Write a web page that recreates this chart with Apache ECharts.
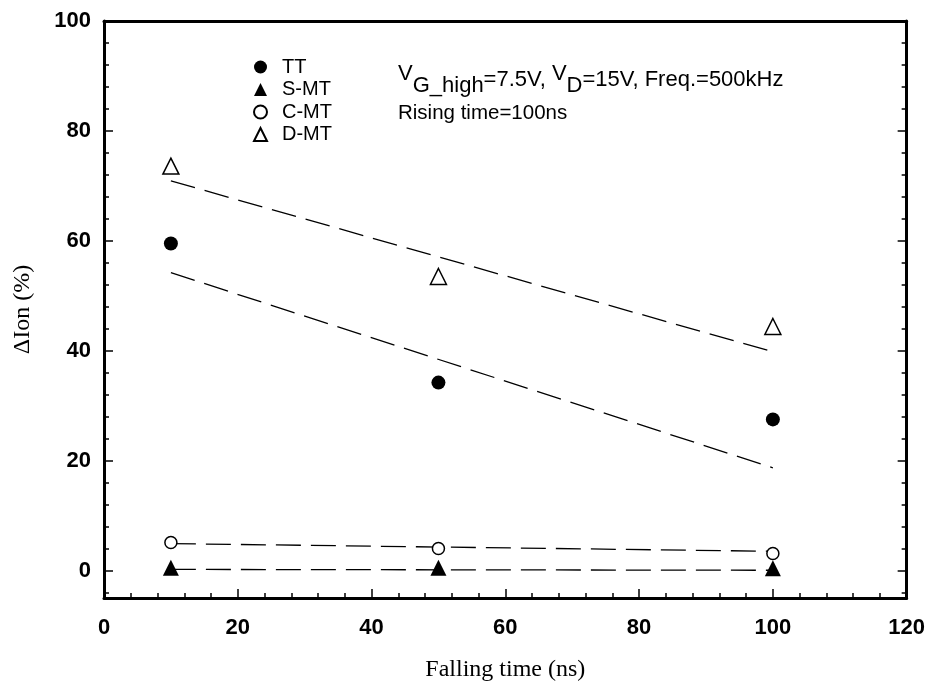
<!DOCTYPE html>
<html>
<head>
<meta charset="UTF-8">
<title>Delta Ion vs falling time</title>
<script src="https://cdn.jsdelivr.net/npm/echarts@6/dist/echarts.min.js"></script>
<style>
  html, body { margin: 0; padding: 0; background: #fff; }
  #main { width: 928px; height: 691px; }
</style>
</head>
<body>
<div id="main"></div>
<script>
// falling time (ns)
var xs = [10, 50, 100];
// measured points (%)
var ttVals = [59.5, 34.2, 27.5];
var smtVals = [0.5, 0.5, 0.4];
var cmtVals = [5.1, 4.0, 3.1];
var dmtVals = [73.6, 53.5, 44.4];
// fitted dashed lines, ends at x = 10 and x = 100
var fitX = [10, 100];
var ttFit = [54.2, 18.7];
var smtFit = [0.2, 0.05];
var cmtFit = [4.9, 3.5];
var dmtFit = [70.9, 39.8];
// ticks
var yMajor = [0, 20, 40, 60, 80, 100];
var yMinor = [-4, 4, 8, 12, 16, 24, 28, 32, 36, 44, 48, 52, 56, 64, 68, 72, 76, 84, 88, 92, 96];

function pairs(x, y) {
    return x.map(function (v, i) { return [v, y[i]]; });
}

var chart = echarts.init(document.getElementById('main'));
var black = '#000';
var sans = 'Liberation Sans, Arial, sans-serif';
var serif = 'Liberation Serif, Times New Roman, serif';

function yAx(pos, ticks, len, labels) {
    return {
        type: 'value', min: -5, max: 100, position: pos,
        axisLine: { show: len === 9, onZero: false, lineStyle: { color: black, width: 3 } },
        axisTick: { show: true, inside: true, length: len, customValues: ticks,
                    lineStyle: { color: black, width: 1.5 } },
        axisLabel: { show: labels, customValues: ticks, color: black, fontWeight: 'bold',
                     fontSize: 22, fontFamily: sans, margin: 13 },
        splitLine: { show: false }
    };
}

var yAxes = [yAx('left', yMajor, 9, true), yAx('left', yMinor, 5, false),
             yAx('right', yMajor, 9, false), yAx('right', yMinor, 5, false)];
yAxes[0].name = '\u0394Ion (%)';
yAxes[0].nameLocation = 'middle';
yAxes[0].nameGap = 69;
yAxes[0].nameTextStyle = { fontFamily: serif, fontSize: 24, color: black };

function fitLine(data) {
    return {
        type: 'line', data: pairs(fitX, data), showSymbol: false, silent: true, z: 1,
        lineStyle: { color: black, width: 1.3, type: [25, 10] }
    };
}

function pts(name, data, symbol, size, filled) {
    return {
        name: name, type: 'scatter', data: pairs(xs, data), symbol: symbol, symbolSize: size, z: 3,
        itemStyle: filled ? { color: black, opacity: 1 }
                          : { color: '#fff', borderColor: black, borderWidth: 1.5, opacity: 1 }
    };
}

var option = {
    animation: false,
    backgroundColor: '#fff',
    grid: { left: 104, right: 21, top: 21, bottom: 93 },
    xAxis: [{
        type: 'value', min: 0, max: 120, interval: 20, position: 'bottom',
        axisLine: { onZero: false, lineStyle: { color: black, width: 3 } },
        axisTick: { inside: true, length: 9, lineStyle: { color: black, width: 1.5 } },
        minorTick: { show: true, splitNumber: 5, length: 5, lineStyle: { color: black, width: 1.5 } },
        axisLabel: { color: black, fontWeight: 'bold', fontSize: 22, fontFamily: sans, margin: 19 },
        splitLine: { show: false },
        name: 'Falling time (ns)', nameLocation: 'middle', nameGap: 60,
        nameTextStyle: { fontFamily: serif, fontSize: 24, color: black }
    }, {
        type: 'value', min: 0, max: 120, position: 'top',
        axisLine: { onZero: false, lineStyle: { color: black, width: 3 } },
        axisTick: { show: false }, axisLabel: { show: false }, splitLine: { show: false }
    }],
    yAxis: yAxes,
    legend: {
        data: ['TT', 'S-MT', 'C-MT', 'D-MT'],
        orient: 'vertical', left: 248, top: 52,
        itemWidth: 13, itemHeight: 13, itemGap: 2.5,
        selectedMode: false,
        textStyle: { fontSize: 20, lineHeight: 19, fontFamily: sans, color: black, padding: [0, 0, 0, 10] }
    },
    graphic: [{
        type: 'text', left: 398, top: 63,
        style: {
            text: '{v|V}{s|G_high}{n|=7.5V, }{v|V}{s|D}{n|=15V, Freq.=500kHz}',
            rich: {
                v: { fontSize: 22, fontFamily: sans, fill: black, lineHeight: 34, verticalAlign: 'top' },
                s: { fontSize: 22, fontFamily: sans, fill: black, lineHeight: 34, verticalAlign: 'bottom' },
                n: { fontSize: 22, fontFamily: sans, fill: black, lineHeight: 34, verticalAlign: 'middle' }
            }
        }
    }, {
        type: 'text', left: 398, top: 103,
        style: { text: 'Rising time=100ns', fontSize: 20.5, fontFamily: sans, fill: black }
    }],
    series: [
        fitLine(ttFit), fitLine(smtFit), fitLine(cmtFit), fitLine(dmtFit),
        pts('TT', ttVals, 'circle', 14, true),
        pts('S-MT', smtVals, 'triangle', 16, true),
        pts('C-MT', cmtVals, 'circle', 12, false),
        pts('D-MT', dmtVals, 'triangle', 16, false)
    ]
};
chart.setOption(option);
</script>
</body>
</html>
